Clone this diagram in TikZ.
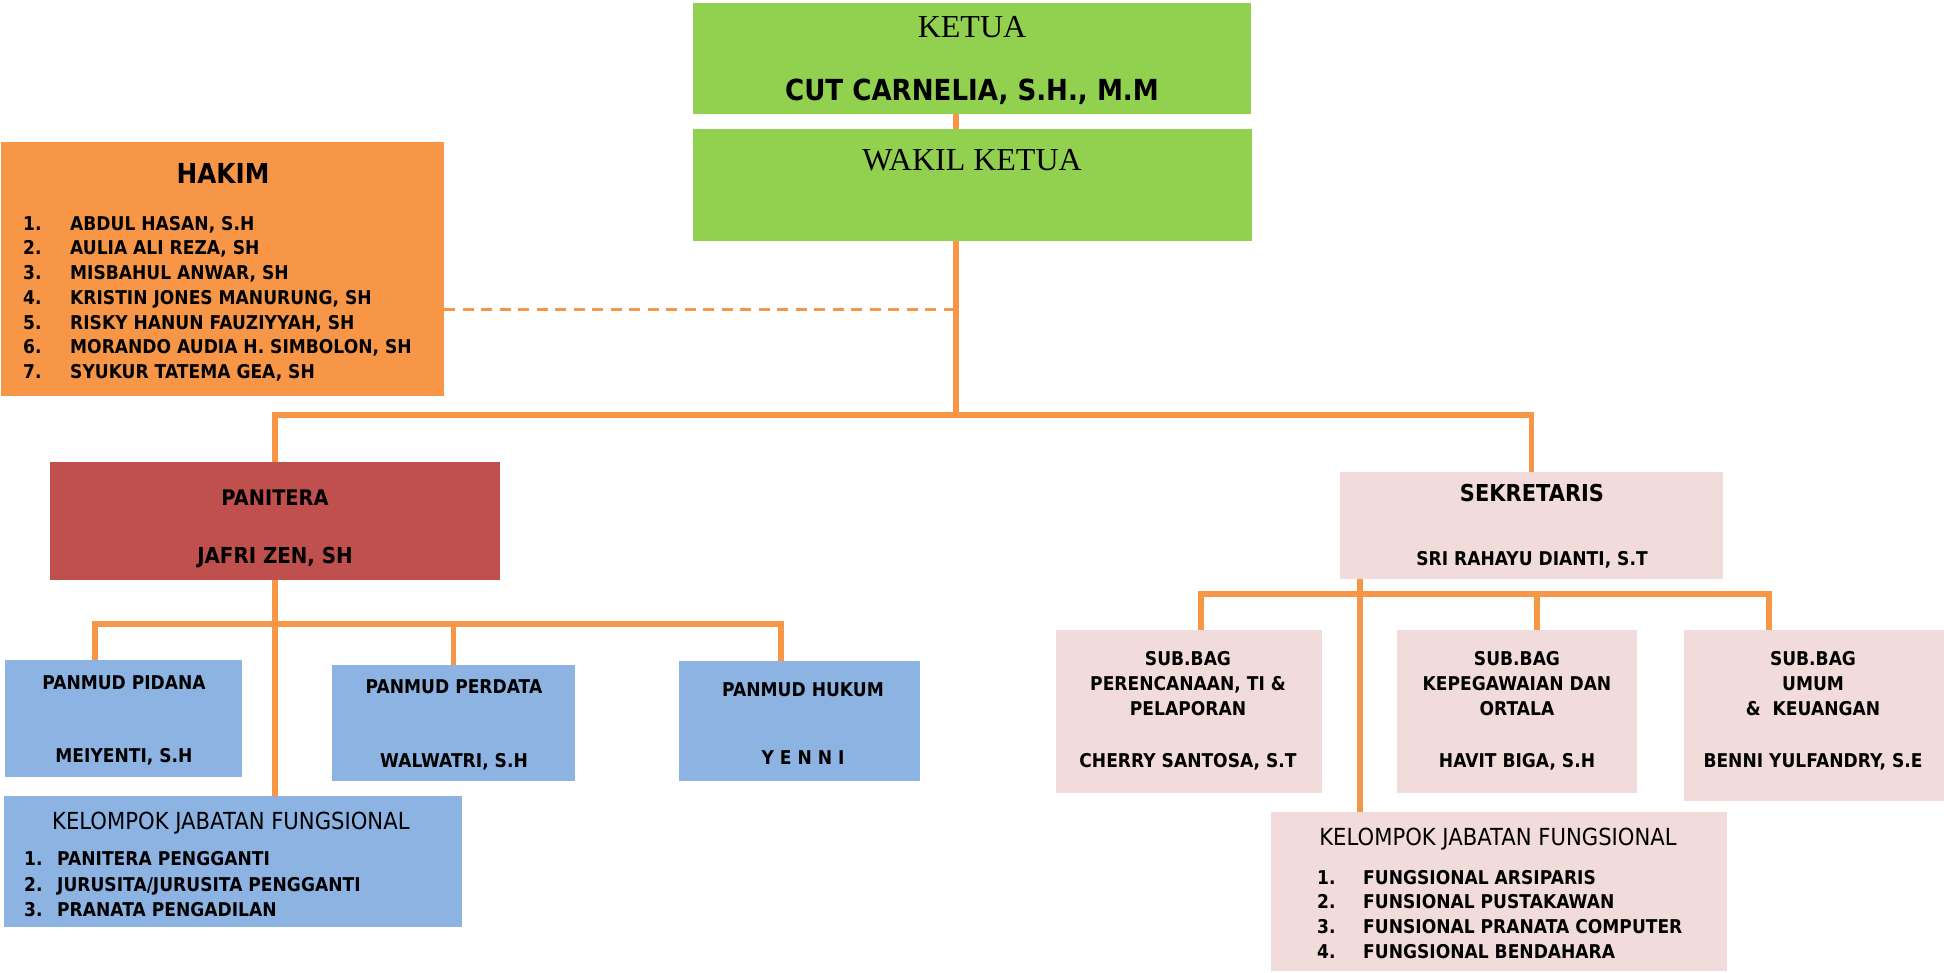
\documentclass[tikz,border=0pt]{standalone}
\usepackage{fontspec}
\setmainfont[FakeStretch=0.9]{DejaVu Sans}
\newfontfamily\titlef{Liberation Serif}
\definecolor{kgreen}{HTML}{92D050}
\definecolor{korange}{HTML}{F79646}
\definecolor{kred}{HTML}{C0504D}
\definecolor{kblue}{HTML}{8DB3E2}
\definecolor{kpink}{HTML}{F2DCDB}
\newcommand\bx[6]{\node[#2, minimum width={#5-#3}, minimum height={#6-#4}] (#1) at (#3,#4) {};}
\begin{document}
\begin{tikzpicture}[x=1pt,y=-1pt,
  box/.style={inner sep=0pt, outer sep=0pt, anchor=north west, rectangle},
  gbox/.style={box, fill=kgreen},
  obox/.style={box, fill=korange},
  rbox/.style={box, fill=kred},
  bbox/.style={box, fill=kblue},
  pbox/.style={box, fill=kpink},
  conn/.style={draw=korange, line width=5.5pt},
  dconn/.style={draw=korange, line width=3pt, dash pattern=on 11pt off 7.5pt},
  txt/.style={anchor=base, inner sep=0pt, font=\bfseries\fontsize{19}{19}\selectfont},
  ltxt/.style={txt, anchor=base west},
  ttl/.style={anchor=base, inner sep=0pt, font=\titlef\fontsize{32}{32}\selectfont},
  kel/.style={anchor=base, inner sep=0pt, font=\fontsize{23.5}{23.5}\selectfont}
]
\useasboundingbox (0,0) rectangle (1944,973);

% boxes
\bx{ketua}{gbox}{693}{3}{1251}{114}
\bx{wakil}{gbox}{693}{129}{1252}{241}
\bx{hakim}{obox}{1}{142}{444}{396}
\bx{panitera}{rbox}{50}{462}{500}{580}
\bx{pidana}{bbox}{5}{660}{242}{777}
\bx{perdata}{bbox}{332}{665}{575}{781}
\bx{hukum}{bbox}{679}{661}{920}{781}
\bx{kelL}{bbox}{4}{796}{462}{927}
\bx{sekre}{pbox}{1340}{472}{1723}{579}
\bx{sub1}{pbox}{1056}{630}{1322}{793}
\bx{sub2}{pbox}{1397}{630}{1637}{793}
\bx{sub3}{pbox}{1684}{630}{1944}{801}
\bx{kelR}{pbox}{1271}{812}{1727}{971}

% connectors
\coordinate (s0) at (956,415);
\coordinate (d0) at (956,310);
\draw[conn] (ketua.south -| s0) -- (wakil.north -| s0);
\draw[conn] (wakil.south -| s0) -- (s0);
\draw[conn] (panitera.north) |- (s0) -| (sekre.north);
\draw[dconn] (hakim.east |- d0) -- (d0);

\coordinate (ph1) at (95,624);
\coordinate (ph3) at (781,624);
\draw[conn] (panitera.south) -- (kelL.north -| panitera.south);
\draw[conn] (pidana.north -| ph1) |- (ph3) -- (hukum.north -| ph3);
\draw[conn] (perdata.north) -- (perdata.north |- ph1);

\coordinate (q0) at (1360,594);
\coordinate (q1) at (1201,594);
\coordinate (q2) at (1537,594);
\coordinate (q3) at (1769,594);
\draw[conn] (sekre.south -| q0) -- (kelR.north -| q0);
\draw[conn] (sub1.north -| q1) |- (q3) -- (sub3.north -| q3);
\draw[conn] (sub2.north -| q2) -- (q2);

% texts
\node[ttl] (tketua) at (972,38) {KETUA};
\node[txt, font=\bfseries\fontsize{29}{29}\selectfont] (tcut) at (972,101) {CUT CARNELIA, S.H., M.M};
\node[ttl] (twakil) at (972,171) {WAKIL KETUA};

\node[txt, font=\bfseries\fontsize{27.5}{27.5}\selectfont] (thakim) at (223,184) {HAKIM};
\foreach \i/\y/\n in {1/231/{ABDUL HASAN, S.H},2/255/{AULIA ALI REZA, SH},3/280/{MISBAHUL ANWAR, SH},4/305/{KRISTIN JONES MANURUNG, SH},5/330/{RISKY HANUN FAUZIYYAH, SH},6/354/{MORANDO AUDIA H. SIMBOLON, SH},7/379/{SYUKUR TATEMA GEA, SH}}{
  \node[ltxt] (hn\i) at (23,\y) {\i.};
  \node[ltxt] (ht\i) at (70,\y) {\n};
}

\node[txt, font=\bfseries\fontsize{21.5}{21.5}\selectfont] (tpan) at (275,505) {PANITERA};
\node[txt, font=\bfseries\fontsize{22}{22}\selectfont] (tjaf) at (275,563) {JAFRI ZEN, SH};

\node[txt] (tpid1) at (124,689) {PANMUD PIDANA};
\node[txt] (tpid2) at (124,762) {MEIYENTI, S.H};
\node[txt] (tper1) at (454,693) {PANMUD PERDATA};
\node[txt] (tper2) at (454,767) {WALWATRI, S.H};
\node[txt] (thuk1) at (803,696) {PANMUD HUKUM};
\node[txt] (thuk2) at (803,764) {Y E N N I};

\node[kel, anchor=base west] (tkelL) at (52,829) {KELOMPOK JABATAN FUNGSIONAL};
\foreach \i/\y/\n in {1/865/{PANITERA PENGGANTI},2/891/{JURUSITA/JURUSITA PENGGANTI},3/916/{PRANATA PENGADILAN}}{
  \node[ltxt] (kln\i) at (24,\y) {\i.};
  \node[ltxt] (klt\i) at (57,\y) {\n};
}

\node[txt, font=\bfseries\fontsize{23.3}{23.3}\selectfont] (tsek1) at (1532,501) {SEKRETARIS};
\node[txt] (tsek2) at (1532,565) {SRI RAHAYU DIANTI, S.T};

\node[txt] (ta1) at (1188,665) {SUB.BAG};
\node[txt] (ta2) at (1188,690) {PERENCANAAN, TI \&};
\node[txt] (ta3) at (1188,715) {PELAPORAN};
\node[txt] (ta4) at (1188,767) {CHERRY SANTOSA, S.T};
\node[txt] (tb1) at (1517,665) {SUB.BAG};
\node[txt] (tb2) at (1517,690) {KEPEGAWAIAN DAN};
\node[txt] (tb3) at (1517,715) {ORTALA};
\node[txt] (tb4) at (1517,767) {HAVIT BIGA, S.H};
\node[txt] (tc1) at (1813,665) {SUB.BAG};
\node[txt] (tc2) at (1813,690) {UMUM};
\node[txt] (tc3) at (1813,715) {\&\ \ KEUANGAN};
\node[txt] (tc4) at (1813,767) {BENNI YULFANDRY, S.E};

\node[kel] (tkelR) at (1498,845) {KELOMPOK JABATAN FUNGSIONAL};
\foreach \i/\y/\n in {1/884/{FUNGSIONAL ARSIPARIS},2/908/{FUNSIONAL PUSTAKAWAN},3/933/{FUNSIONAL PRANATA COMPUTER},4/958/{FUNGSIONAL BENDAHARA}}{
  \node[ltxt] (krn\i) at (1317,\y) {\i.};
  \node[ltxt] (krt\i) at (1363,\y) {\n};
}
\end{tikzpicture}
\end{document}
